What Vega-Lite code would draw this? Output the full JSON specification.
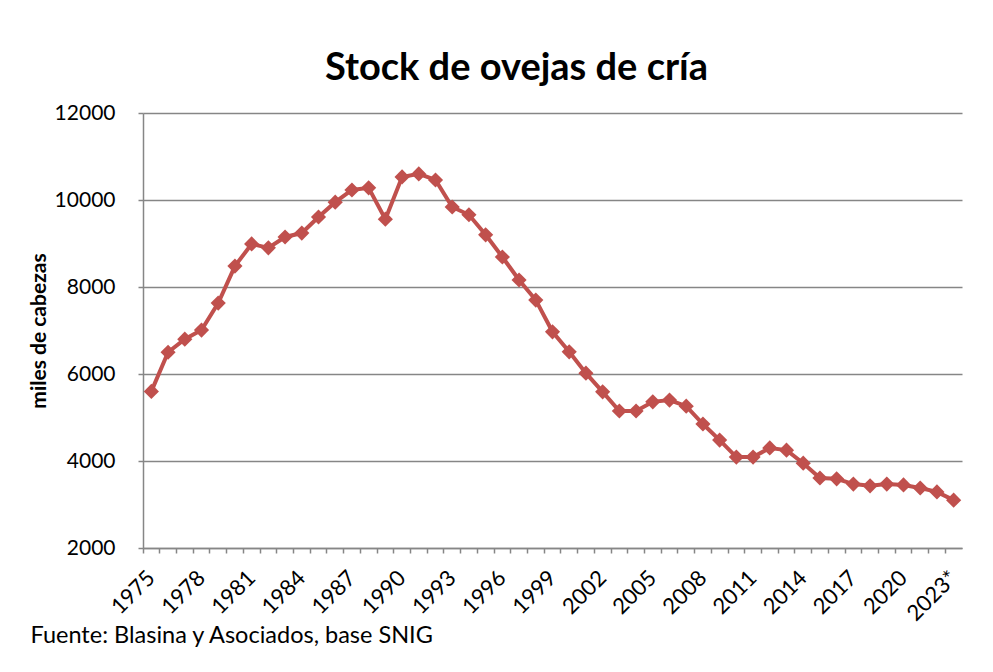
{
  "$schema": "https://vega.github.io/schema/vega-lite/v6.json",
  "width": 819,
  "height": 435,
  "autosize": {"type": "none"},
  "padding": {"left": 143, "top": 113, "right": 31, "bottom": 124},
  "background": "white",
  "title": {
    "text": "Stock de ovejas de cría",
    "font": "Lato",
    "fontSize": 38,
    "fontWeight": "bold",
    "color": "#000000",
    "anchor": "middle",
    "frame": "group",
    "dx": -36,
    "offset": 14
  },
  "config": {"view": {"stroke": null}},
  "data": {
    "values": [
      {"year": "1975", "value": 5600},
      {"year": "1976", "value": 6500},
      {"year": "1977", "value": 6800},
      {"year": "1978", "value": 7010},
      {"year": "1979", "value": 7630},
      {"year": "1980", "value": 8480},
      {"year": "1981", "value": 8990},
      {"year": "1982", "value": 8900},
      {"year": "1983", "value": 9150},
      {"year": "1984", "value": 9240},
      {"year": "1985", "value": 9610},
      {"year": "1986", "value": 9950},
      {"year": "1987", "value": 10230},
      {"year": "1988", "value": 10280},
      {"year": "1989", "value": 9560},
      {"year": "1990", "value": 10530},
      {"year": "1991", "value": 10600},
      {"year": "1992", "value": 10460},
      {"year": "1993", "value": 9840},
      {"year": "1994", "value": 9660},
      {"year": "1995", "value": 9200},
      {"year": "1996", "value": 8690},
      {"year": "1997", "value": 8160},
      {"year": "1998", "value": 7700},
      {"year": "1999", "value": 6970},
      {"year": "2000", "value": 6510},
      {"year": "2001", "value": 6020},
      {"year": "2002", "value": 5590},
      {"year": "2003", "value": 5150},
      {"year": "2004", "value": 5150},
      {"year": "2005", "value": 5360},
      {"year": "2006", "value": 5400},
      {"year": "2007", "value": 5260},
      {"year": "2008", "value": 4850},
      {"year": "2009", "value": 4480},
      {"year": "2010", "value": 4090},
      {"year": "2011", "value": 4090},
      {"year": "2012", "value": 4300},
      {"year": "2013", "value": 4250},
      {"year": "2014", "value": 3950},
      {"year": "2015", "value": 3610},
      {"year": "2016", "value": 3590},
      {"year": "2017", "value": 3470},
      {"year": "2018", "value": 3430},
      {"year": "2019", "value": 3470},
      {"year": "2020", "value": 3450},
      {"year": "2021", "value": 3380},
      {"year": "2022", "value": 3290},
      {"year": "2023*", "value": 3100}
    ]
  },
  "mark": {
    "type": "line",
    "color": "#C0504D",
    "strokeWidth": 4,
    "point": {"shape": "diamond", "size": 230, "filled": true, "color": "#C0504D", "opacity": 1}
  },
  "encoding": {
    "x": {
      "field": "year",
      "type": "ordinal",
      "sort": null,
      "scale": {"type": "band", "paddingInner": 0, "paddingOuter": 0},
      "axis": {
        "title": "Fuente: Blasina y Asociados, base SNIG",
        "titleX": -113,
        "titleY": 94,
        "titleAlign": "left",
        "titleAnchor": "start",
        "titleBaseline": "alphabetic",
        "titleFont": "Lato",
        "titleFontSize": 23.5,
        "titleFontWeight": "normal",
        "titleColor": "#000000",
        "labelExpr": "(toNumber(slice(datum.label, 0, 4)) - 1975) % 3 === 0 ? datum.label : ''",
        "labelAngle": -45,
        "labelFont": "Lato",
        "labelFontSize": 22,
        "labelColor": "#000000",
        "labelPadding": 14,
        "labelOverlap": false,
        "bandPosition": 0,
        "labelOffset": -7,
        "tickSize": 5,
        "tickColor": "#868686",
        "tickWidth": 1.5,
        "domainColor": "#868686",
        "domainWidth": 1.5,
        "grid": false
      }
    },
    "y": {
      "field": "value",
      "type": "quantitative",
      "scale": {"domain": [2000, 12000]},
      "axis": {
        "values": [2000, 4000, 6000, 8000, 10000, 12000],
        "format": "d",
        "title": "miles de cabezas",
        "titleFont": "Lato",
        "titleFontSize": 21,
        "titleFontWeight": "bold",
        "titleColor": "#000000",
        "titleX": -104,
        "titleY": 217.5,
        "titleAngle": -90,
        "titleAlign": "center",
        "titleBaseline": "middle",
        "labelFont": "Lato",
        "labelFontSize": 21,
        "labelColor": "#000000",
        "labelPadding": 23,
        "tickSize": 5,
        "tickColor": "#868686",
        "tickWidth": 1.5,
        "gridColor": "#868686",
        "gridWidth": 1.5,
        "domainColor": "#868686",
        "domainWidth": 1.5
      }
    }
  }
}
